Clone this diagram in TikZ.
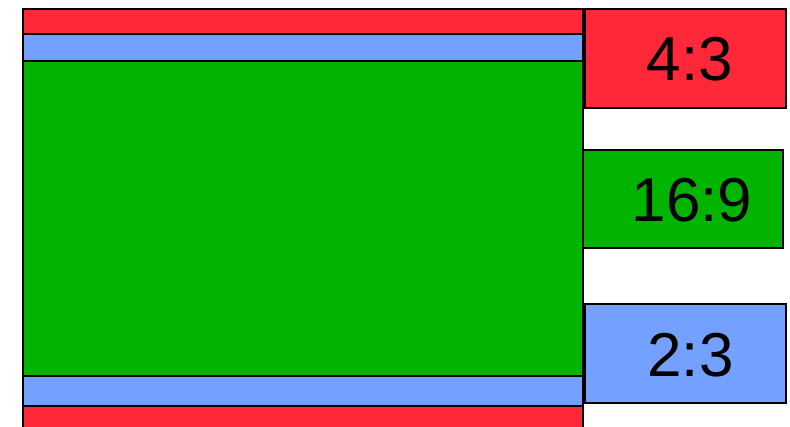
\documentclass[tikz,border=0pt]{standalone}
\usepackage{fontspec}
\setmainfont{Liberation Sans}
\definecolor{cred}{RGB}{255,40,56}
\definecolor{cblue}{RGB}{116,160,255}
\definecolor{cgreen}{RGB}{0,180,0}
\begin{document}
\begin{tikzpicture}[x=1pt,y=-1pt,
  bar/.style={draw=black,line width=1.5pt},
  lbl/.style={inner sep=0pt,font=\fontsize{62}{62}\selectfont}]
\useasboundingbox (0,0) rectangle (790,427);
\begin{scope}
\clip (0,0) rectangle (790,427);
\draw[bar,fill=cred] (23,9) rectangle (583,34);
\draw[bar,fill=cblue] (23,34) rectangle (583,61);
\draw[bar,fill=cgreen] (23,61) rectangle (583,376);
\draw[bar,fill=cblue] (23,376) rectangle (583,406);
\draw[bar,fill=cred] (23,406) rectangle (583,440);
\draw[bar,fill=cred] (585,9) rectangle (786,108);
\draw[bar,fill=cgreen] (583,150) rectangle (783,248);
\draw[bar,fill=cblue] (585,304) rectangle (786,403);
\end{scope}
\node[lbl] (a) at (690,59) {4:3};
\node[lbl] (b) at (692,200) {16:9};
\node[lbl] (c) at (690.5,355) {2:3};
\end{tikzpicture}
\end{document}
